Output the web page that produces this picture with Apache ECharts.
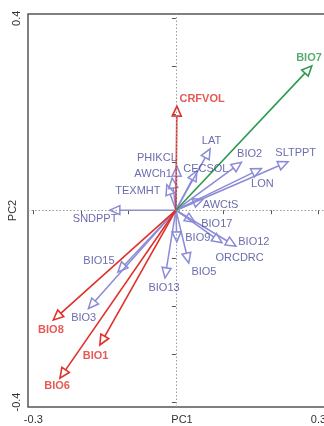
<!DOCTYPE html>
<html>
<head>
<meta charset="utf-8">
<script src="https://cdn.jsdelivr.net/npm/echarts@6/dist/echarts.min.js"></script>
<style>html,body{margin:0;padding:0;background:#fff}#c{width:324px;height:426px}</style>
</head>
<body>
<div id="c"></div>
<script>
// Variable names, PCA loadings (arrow tips) and label anchor points (data units)
const variableNames = ['SNDPPT','TEXMHT','AWCh1','PHIKCL','LAT','CECSOL','BIO2','SLTPPT','LON','AWCtS','BIO17','BIO12','ORCDRC','BIO9','BIO5','BIO13','BIO15','BIO3','CRFVOL','BIO8','BIO1','BIO6','BIO7'];
const pc1Loadings = [-0.139,-0.019,-0.008,0.002,0.072,0.044,0.138,0.236,0.180,0.057,0.040,0.126,0.097,0.002,0.027,-0.023,-0.122,-0.184,0.002,-0.258,-0.160,-0.244,0.286];
const pc2Loadings = [0.000,0.053,0.067,0.092,0.128,0.082,0.100,0.101,0.087,0.023,-0.025,-0.075,-0.068,-0.066,-0.110,-0.141,-0.129,-0.205,0.217,-0.229,-0.281,-0.350,0.301];
const variableGroups = ['other','other','other','other','other','other','other','other','other','other','other','other','other','other','other','other','other','other','negative','negative','negative','negative','positive'];
const labelPC1 = [-0.170,-0.080,-0.048,-0.040,0.075,0.063,0.155,0.252,0.182,0.094,0.086,0.164,0.134,0.046,0.059,-0.025,-0.162,-0.194,0.055,-0.263,-0.169,-0.250,0.280];
const labelPC2 = [-0.018,0.040,0.075,0.109,0.144,0.086,0.117,0.119,0.055,0.011,-0.029,-0.066,-0.100,-0.058,-0.129,-0.162,-0.106,-0.225,0.232,-0.250,-0.304,-0.367,0.317];
const tickValuesPC1 = [-0.3,-0.2,-0.1,0,0.1,0.2,0.3];
const tickValuesPC2 = [-0.4,-0.3,-0.2,-0.1,0,0.1,0.2,0.3,0.4];
const tickLabelsPC1 = [-0.3, 0.3];
const tickLabelsPC2 = [-0.4, 0.4];

const styles = {
  other:    {line:'#8b8bd8', label:'#46469a', weight:'normal', width:1.5},
  negative: {line:'#e0302a', label:'#e0302a', weight:'bold',   width:1.6},
  positive: {line:'#2e9a4e', label:'#2e9a4e', weight:'bold',   width:1.6}
};
const FONT = '"Liberation Sans", Arial, sans-serif';

function arrowRenderer(group){
  const st = styles[group];
  return function(params, api){
    const o = api.coord([0,0]);
    const p = api.coord([api.value(0), api.value(1)]);
    const dx = p[0]-o[0], dy = p[1]-o[1];
    const L = Math.hypot(dx,dy) || 1;
    const ux = dx/L, uy = dy/L;
    const hl = 10, hw = 4.5;
    const b = [p[0]-ux*hl, p[1]-uy*hl];
    const l = [b[0]-uy*hw, b[1]+ux*hw];
    const r = [b[0]+uy*hw, b[1]-ux*hw];
    return {type:'group', children:[
      {type:'line', shape:{x1:o[0],y1:o[1],x2:b[0],y2:b[1]}, style:{stroke:st.line, lineWidth:st.width}},
      {type:'polygon', shape:{points:[p,l,r]}, style:{fill:'rgba(255,255,255,0)', stroke:st.line, lineWidth:st.width}}
    ]};
  };
}

const series = [];
['other','negative','positive'].forEach(function(g, gi){
  const arrows = [], labels = [];
  variableNames.forEach(function(n,i){
    if (variableGroups[i] !== g) return;
    arrows.push({name:n, value:[pc1Loadings[i], pc2Loadings[i]]});
    labels.push({name:n, value:[labelPC1[i], labelPC2[i]]});
  });
  const s = {
    type:'custom', renderItem: arrowRenderer(g), data: arrows, silent:true, z: 3+gi,
    encode:{x:0,y:1}
  };
  if (gi === 0) {
    s.markLine = {
      silent:true, symbol:'none', label:{show:false},
      lineStyle:{type:[1.5,2], color:'#9a9a9a', width:1},
      data:[{xAxis:0},{yAxis:0}]
    };
  }
  series.push(s);
  series.push({
    type:'scatter', data: labels, symbolSize:0, silent:true, z:10,
    label:{show:true, position:'inside', formatter:'{b}', color:styles[g].label,
      fontSize:11, fontWeight:styles[g].weight, fontFamily:FONT}
  });
});

const chart = echarts.init(document.getElementById('c'), null, {renderer:'canvas'});
chart.setOption({
  animation:false,
  backgroundColor:'#fff',
  grid:{left:28, right:-2, top:14, bottom:19, outerBoundsMode:'none', containLabel:false,
    show:true, borderColor:'#555', borderWidth:1.5, backgroundColor:'transparent'},
  xAxis:{
    type:'value', min:-0.3112, max:0.3158,
    name:'PC1', nameLocation:'middle', nameGap:7, nameMoveOverlap:false,
    nameTextStyle:{color:'#333', fontSize:11, fontFamily:FONT, padding:[0,0,0,10], verticalAlign:'top'},
    axisLine:{show:false}, splitLine:{show:false},
    axisTick:{show:true, customValues:tickValuesPC1, length:4, lineStyle:{color:'#555', width:1}},
    axisLabel:{customValues:tickLabelsPC1, color:'#333', fontSize:11, fontFamily:FONT, margin:7,
      formatter:function(v){return v.toFixed(1);}}
  },
  yAxis:{
    type:'value', min:-0.4103, max:0.409,
    name:'PC2', nameLocation:'middle', nameGap:10, nameRotate:90, nameMoveOverlap:false,
    nameTextStyle:{color:'#333', fontSize:11, fontFamily:FONT},
    axisLine:{show:false}, splitLine:{show:false},
    axisTick:{show:true, customValues:tickValuesPC2, length:4, lineStyle:{color:'#555', width:1}},
    axisLabel:{customValues:tickLabelsPC2, rotate:90, color:'#333', fontSize:11, fontFamily:FONT, margin:6,
      formatter:function(v){return v.toFixed(1);}}
  },
  series: series
});
</script>
</body>
</html>
